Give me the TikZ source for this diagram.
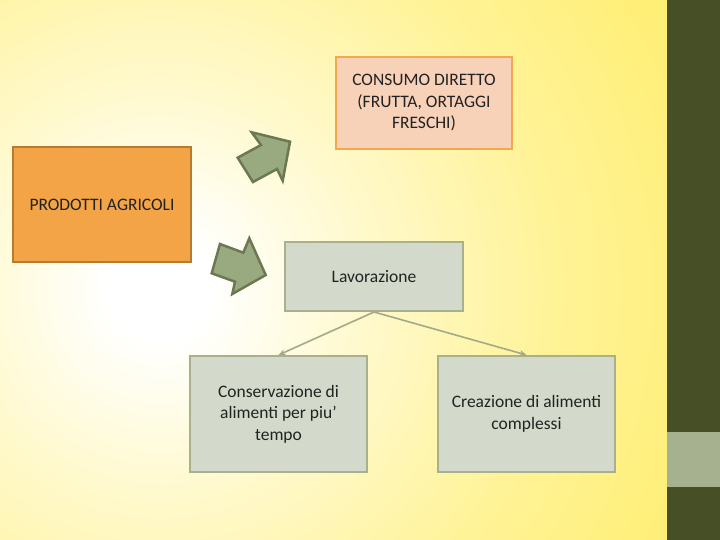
\documentclass[tikz,border=0pt]{standalone}
\usepackage{fontspec}
\setmainfont{Carlito}
\usetikzlibrary{arrows.meta}
\definecolor{bgyellow}{HTML}{FFEC5E}
\definecolor{olive}{HTML}{474F27}
\definecolor{lightolive}{HTML}{A6B28F}
\definecolor{peach}{HTML}{F8D1B9}
\definecolor{peachline}{HTML}{F4A84E}
\definecolor{orangefill}{HTML}{F2A446}
\definecolor{orangeline}{HTML}{B87A2E}
\definecolor{grayfill}{HTML}{D4DACB}
\definecolor{grayline}{HTML}{A8B08E}
\definecolor{arrowfill}{HTML}{9AAA80}
\definecolor{arrowline}{HTML}{6C7852}
\definecolor{connline}{HTML}{A2AA8A}
\definecolor{txt}{HTML}{222222}
\pgfdeclareradialshading{bgshade}{\pgfpoint{0bp}{0bp}}{color(0bp)=(white); color(2bp)=(white); color(8bp)=(bgyellow!30!white); color(16bp)=(bgyellow!65!white); color(28bp)=(bgyellow); color(50bp)=(bgyellow)}
\tikzset{
  boxbase/.style={rectangle, draw, line width=2pt, inner sep=0pt, align=center, text=txt, font=\fontsize{17.5}{21.5}\selectfont},
  peachbox/.style={boxbase, fill=peach, draw=peachline},
  orangebox/.style={boxbase, fill=orangefill, draw=orangeline, line width=2.5pt},
  graybox/.style={boxbase, fill=grayfill, draw=grayline},
  blockarrow/.style={fill=arrowfill, draw=arrowline, line width=2.5pt, line join=miter},
  conn/.style={draw=connline, line width=1.6pt, -{Stealth[length=7pt,width=6pt]}}
}
\begin{document}
\begin{tikzpicture}[x=1pt,y=-1pt]
\useasboundingbox (0,0) rectangle (720,540);
\begin{scope}
\clip (0,0) rectangle (667,540);
\shade[shading=bgshade] (160,290) circle (620pt);
\end{scope}
\fill[olive] (667,0) rectangle (720,540);
\fill[lightolive] (667,432) rectangle (720,487);
% boxes
\node[peachbox, minimum width=176pt, minimum height=92pt] (cd) at (424,103) {CONSUMO DIRETTO\\(FRUTTA, ORTAGGI\\FRESCHI)};
\node[orangebox, minimum width=178pt, minimum height=115pt] (pa) at (102,204.5) {PRODOTTI AGRICOLI};
\node[graybox, minimum width=178pt, minimum height=69pt] (lav) at (374,276.5) {Lavorazione};
\node[graybox, minimum width=177pt, minimum height=116pt] (cons) at (278.5,414) {\raisebox{0pt}{}Conservazione di\\alimenti per piu’\\tempo};
\node[graybox, minimum width=177pt, minimum height=116pt] (crea) at (526.5,414) {Creazione di alimenti\\complessi};
% connectors
\draw[conn] (lav.south) -- (cons.north);
\draw[conn] (lav.south) -- (crea.north);
% block arrows
\draw[blockarrow] (251.7,132.3) -- (290,141.7) -- (282.7,180.7) -- (277,169) -- (253,182) -- (237.7,157.7) -- (261,145) -- cycle;
\draw[blockarrow] (249.3,238.3) -- (265.7,275) -- (232.3,294) -- (235,281.7) -- (211.7,273.3) -- (220,244) -- (243.3,252.7) -- cycle;
\end{tikzpicture}
\end{document}
